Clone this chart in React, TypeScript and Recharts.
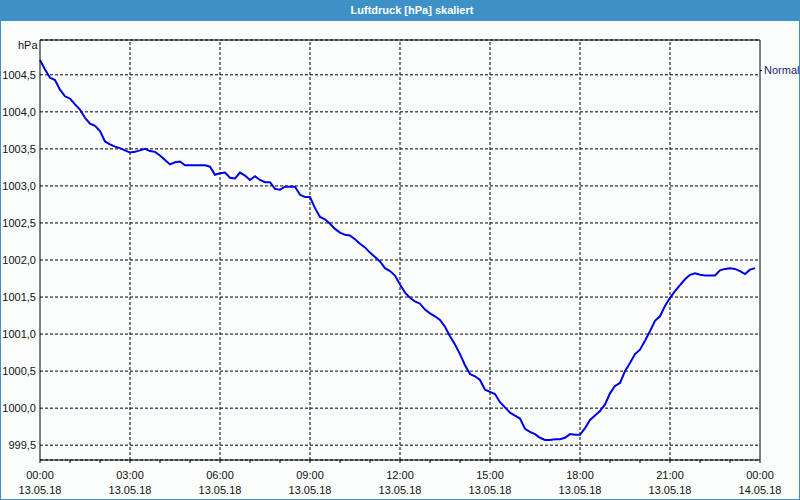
import React from "react"
import {
  LineChart,
  Line,
  XAxis,
  YAxis,
  CartesianGrid,
  ReferenceLine,
} from "recharts"

// pressure readings every 10 minutes, 13.05.18 00:00 .. 23:50
const pressure = [
  1004.7, 1004.57, 1004.46, 1004.43, 1004.3, 1004.21, 1004.18, 1004.1, 1004.03, 1003.92,
  1003.84, 1003.81, 1003.74, 1003.6, 1003.56, 1003.53, 1003.51, 1003.48, 1003.45, 1003.46,
  1003.48, 1003.5, 1003.47, 1003.46, 1003.41, 1003.35, 1003.29, 1003.32, 1003.33, 1003.28,
  1003.28, 1003.28, 1003.28, 1003.28, 1003.26, 1003.15, 1003.17, 1003.18, 1003.11, 1003.1,
  1003.18, 1003.14, 1003.08, 1003.13, 1003.08, 1003.05, 1003.05, 1002.96, 1002.95, 1002.99,
  1002.99, 1002.99, 1002.88, 1002.85, 1002.85, 1002.7, 1002.58, 1002.55, 1002.49, 1002.42,
  1002.37, 1002.34, 1002.33, 1002.28, 1002.22, 1002.17, 1002.1, 1002.04, 1001.98, 1001.89,
  1001.85, 1001.79, 1001.67, 1001.56, 1001.49, 1001.44, 1001.41, 1001.33, 1001.28, 1001.24,
  1001.19, 1001.1, 1000.97, 1000.86, 1000.73, 1000.58, 1000.46, 1000.43, 1000.38, 1000.25,
  1000.22, 1000.19, 1000.08, 1000.01, 999.94, 999.9, 999.86, 999.72, 999.68, 999.65,
  999.6, 999.57, 999.57, 999.58, 999.58, 999.6, 999.65, 999.64, 999.64, 999.73,
  999.84, 999.9, 999.96, 1000.05, 1000.2, 1000.3, 1000.34, 1000.5, 1000.61, 1000.73,
  1000.79, 1000.91, 1001.04, 1001.18, 1001.24, 1001.38, 1001.49, 1001.58, 1001.66, 1001.74,
  1001.8, 1001.82, 1001.8, 1001.79, 1001.79, 1001.79, 1001.86, 1001.88, 1001.89, 1001.88,
  1001.85, 1001.81, 1001.87, 1001.89,
]
const stepMinutes = 10

const yTicks = [999.5, 1000, 1000.5, 1001, 1001.5, 1002, 1002.5, 1003, 1003.5, 1004, 1004.5]
const yDomain = [999.3, 1004.97]

// hour ticks (minutes), labels only every 3 hours
const hourTicks = [
  0, 60, 120, 180, 240, 300, 360, 420, 480, 540, 600, 660, 720, 780, 840, 900, 960, 1020,
  1080, 1140, 1200, 1260, 1320, 1380, 1440,
]
const gridTimes = [180, 360, 540, 720, 900, 1080, 1260]
const timeLabels: Record<number, [string, string]> = {
  0: ["00:00", "13.05.18"],
  180: ["03:00", "13.05.18"],
  360: ["06:00", "13.05.18"],
  540: ["09:00", "13.05.18"],
  720: ["12:00", "13.05.18"],
  900: ["15:00", "13.05.18"],
  1080: ["18:00", "13.05.18"],
  1260: ["21:00", "13.05.18"],
  1440: ["00:00", "14.05.18"],
}

const data = pressure.map((v, i) => ({ t: i * stepMinutes, hPa: v }))

const font = "'Liberation Sans', Arial, sans-serif"

const TimeTick = (props: any) => {
  const { x, y, payload } = props
  const lbl = timeLabels[payload.value]
  if (!lbl) return <g />
  return (
    <text x={x} y={y} textAnchor="middle" fontSize={11} fill="#111" fontFamily={font}>
      <tspan x={x} dy={14}>{lbl[0]}</tspan>
      <tspan x={x} dy={15}>{lbl[1]}</tspan>
    </text>
  )
}

export default function App() {
  return (
    <div
      style={{
        position: "relative",
        width: 800,
        height: 500,
        boxSizing: "border-box",
        border: "1px solid #3d91c6",
        background: "#fbfefc",
      }}
    >
      <style>{`body{margin:0}`}</style>
      <div
        style={{
          position: "absolute",
          left: 0,
          top: 0,
          width: 798,
          height: 20,
          background: "#3d91c6",
          color: "#fff",
          fontFamily: font,
          fontWeight: "bold",
          fontSize: 11,
          lineHeight: "19px",
          textAlign: "center",
          paddingLeft: 24,
          boxSizing: "border-box",
        }}
      >
        Luftdruck [hPa] skaliert
      </div>
      <div style={{ position: "absolute", left: 17, top: 38, fontFamily: font, fontSize: 11, color: "#111" }}>
        hPa
      </div>
      <div
        style={{
          position: "absolute",
          left: 759,
          top: 63,
          display: "flex",
          alignItems: "center",
          fontFamily: font,
          fontSize: 11,
          color: "#1c1c70",
        }}
      >
        <span style={{ width: 2, height: 1, background: "#000", marginRight: 2 }} />
        Normal
      </div>
      <div style={{ position: "absolute", left: 0, top: 0 }}>
        <LineChart width={798} height={498} data={data} margin={{ top: 39, right: 39, bottom: 9, left: 0 }}>
          <CartesianGrid vertical={false} stroke="#000" strokeDasharray="3 2" />
          {gridTimes.map((t) => (
            <ReferenceLine key={t} x={t} stroke="#000" strokeDasharray="3 2" />
          ))}
          <ReferenceLine y={yDomain[1]} stroke="#000" />
          <ReferenceLine x={1440} stroke="#000" />
          <XAxis
            dataKey="t"
            type="number"
            domain={[0, 1440]}
            ticks={hourTicks}
            interval={0}
            height={30}
            tickSize={3}
            tickLine={{ stroke: "#000" }}
            axisLine={{ stroke: "#000" }}
            tick={<TimeTick />}
          />
          <YAxis
            type="number"
            domain={yDomain}
            allowDataOverflow
            ticks={yTicks}
            interval={0}
            width={39}
            tickLine={false}
            tickSize={0}
            tickMargin={4}
            axisLine={{ stroke: "#000" }}
            tick={{ fontSize: 11, fill: "#111", fontFamily: font }}
            tickFormatter={(v: number) => v.toFixed(1).replace(".", ",")}
          />
          <Line
            type="linear"
            dataKey="hPa"
            stroke="#0000e6"
            strokeWidth={2}
            dot={false}
            isAnimationActive={false}
          />
        </LineChart>
      </div>
    </div>
  )
}
